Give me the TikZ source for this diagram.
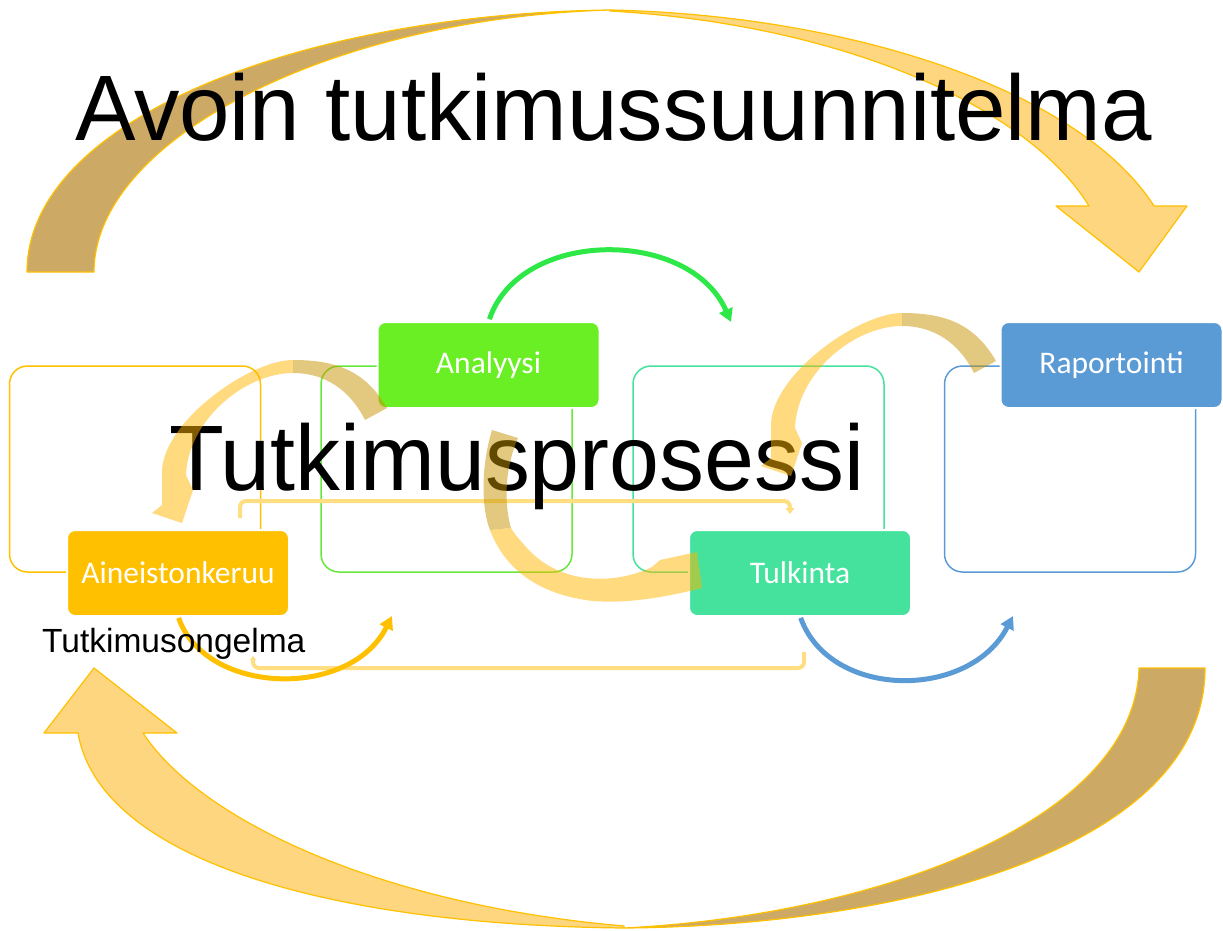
\documentclass[tikz,border=0pt]{standalone}
\usepackage{fontspec}
\setmainfont{Liberation Sans}
\newfontfamily\labelfont{Carlito}
\usetikzlibrary{arrows.meta}
\definecolor{amber}{HTML}{FFC000}
\definecolor{tanback}{RGB}{204,170,102}
\definecolor{sandfront}{RGB}{254,214,128}
\definecolor{leafgreen}{HTML}{6AEF25}
\definecolor{framegreen}{HTML}{66E83A}
\definecolor{arcgreen}{RGB}{45,232,70}
\definecolor{mint}{HTML}{44E29C}
\definecolor{steel}{HTML}{5B9BD5}
\definecolor{swirlback}{RGB}{197,147,0}
\definecolor{swirlfront}{RGB}{255,181,0}
\definecolor{pale}{RGB}{255,222,130}

\begin{document}
\begin{tikzpicture}[x=1pt,y=-1pt,
  bigback/.style={fill=tanback,draw=amber,line width=1.2pt,line join=round},
  bigfront/.style={fill=sandfront,draw=amber,line width=1.2pt,line join=round},
  frame/.style={draw,rounded corners=18pt,line width=1.5pt,minimum width=251pt,
    minimum height=206pt,inner sep=0pt,outer sep=0pt},
  stage/.style={rounded corners=8pt,draw=white,line width=2pt,minimum width=222pt,
    minimum height=86pt,inner sep=0pt,outer sep=0pt,text=white,
    font=\labelfont\fontsize{31.5}{36}\selectfont},
  flow/.style={line width=5pt,-{Triangle[length=13pt,width=14pt]}},
  bracket/.style={draw=pale,line width=4pt,rounded corners=6pt},
  backpart/.style={fill=swirlback,fill opacity=0.5},
  frontpart/.style={fill=swirlfront,fill opacity=0.5},
  swirl/.pic={
    \path[backpart] (387,408) .. controls (365,370) and (335,360) .. (293,360)
      -- (293,373) .. controls (325,373) and (350,390) .. (365,420) -- cycle;
    \path[frontpart] (293,360) .. controls (250,360) and (165,420) .. (162,470)
      -- (162,505) -- (152,513) -- (182,523) -- (193,490) -- (186,475)
      .. controls (188,420) and (245,373) .. (293,373) -- cycle;
  }
]
\useasboundingbox (0,0) rectangle (1223,931);

% large curved arrow over the top
\path[bigback] (27,272) .. controls (27,120) and (300,14) .. (610,10)
  .. controls (330,18) and (94,140) .. (94,272) -- cycle;
\path[bigfront] (610,10) .. controls (850,15) and (1080,90) .. (1154,206)
  -- (1187,206) -- (1139,272) -- (1056,206) -- (1089,206)
  .. controls (1030,110) and (850,25) .. (610,11) -- cycle;

% large curved arrow along the bottom
\path[bigback] (1205,668) .. controls (1205,850) and (900,926) .. (624,928)
  .. controls (880,915) and (1135,820) .. (1139,668) -- cycle;
\path[bigfront] (624,928) .. controls (330,925) and (100,860) .. (78,733)
  -- (44,733) -- (94,668) -- (177,733) -- (143,733)
  .. controls (200,820) and (380,905) .. (624,926) -- cycle;

\node[anchor=base west,inner sep=0pt,font=\fontsize{93}{100}\selectfont] (plan) at (75,140)
  {\scalebox{0.975}[1]{Avoin tutkimussuunnitelma}};

% outline frames of the four stages
\node[frame,draw=amber] (f1) at (135,469) {};
\node[frame,draw=framegreen] (f2) at (446.5,469) {};
\node[frame,draw=mint] (f3) at (758.5,469) {};
\node[frame,draw=steel] (f4) at (1070,469) {};

% thin elbow connectors
\coordinate (ua) at (240,518);
\coordinate (ub) at (790,514);
\draw[bracket,-{Triangle[length=6pt,width=9pt]}] (ua) -- (240,501) -- (790,501) -- (ub);
\coordinate (la) at (804,652);
\coordinate (lb) at (253,656);
\draw[bracket,-{Triangle[length=4pt,width=6pt]}] (la) -- (804,668) -- (253,668) -- (lb);

\node[anchor=base west,inner sep=0pt,font=\fontsize{93}{100}\selectfont] (proc) at (169,490)
  {\scalebox{0.965}[1]{Tutkimusprosessi}};

% stage boxes
\node[stage,fill=amber] (aine) at (178,573) {Aineistonkeruu};
\node[stage,fill=leafgreen] (ana) at (488.5,365) {Analyysi};
\node[stage,fill=mint] (tulk) at (800,573) {Tulkinta};
\node[stage,fill=steel] (rap) at (1111.5,365) {Raportointi};

% stage transitions
\coordinate (gEnd) at (731,322);
\coordinate (oEnd) at (392,616);
\coordinate (bEnd) at (1013,616);
\draw[flow,draw=arcgreen,shorten <=3pt] (ana.north) .. controls (520,228) and (690,228) .. (gEnd);
\draw[flow,draw=amber,shorten <=2pt] (aine.south) .. controls (205,695) and (350,700) .. (oEnd);
\draw[flow,draw=steel,shorten <=2pt] (tulk.south) .. controls (830,700) and (970,700) .. (bEnd);

\node[anchor=base west,inner sep=0pt,font=\fontsize{33.5}{40}\selectfont] (prob) at (42,652) {Tutkimusongelma};

% translucent cycle arrows
\pic at (0,0) {swirl};
\pic at (609,-47) {swirl};
\path[backpart] (492,430) .. controls (480,470) and (482,510) .. (490,530)
  -- (511,528) .. controls (503,500) and (506,465) .. (518,438) -- cycle;
\path[frontpart] (490,530) .. controls (505,570) and (540,595) .. (593,601)
  .. controls (630,604) and (670,596) .. (702,588) -- (697,552) -- (660,560) -- (652,567)
  .. controls (615,585) and (560,585) .. (527,548)
  .. controls (520,540) and (515,535) .. (511,528) -- cycle;
\end{tikzpicture}
\end{document}
